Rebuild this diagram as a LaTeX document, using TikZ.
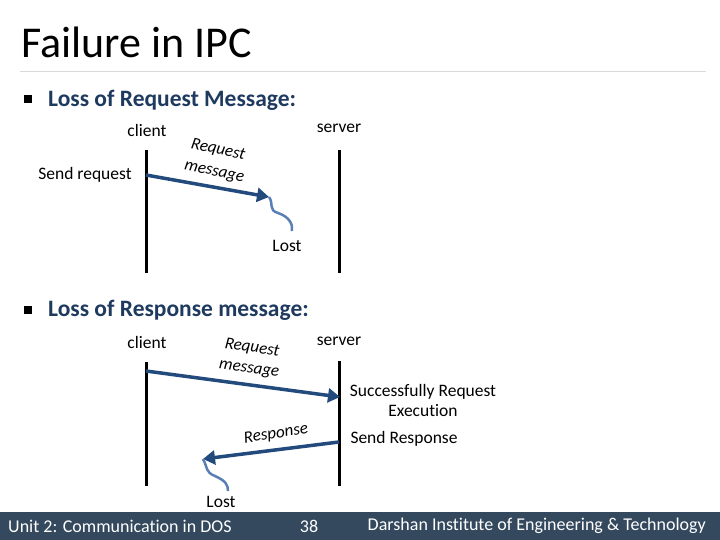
\documentclass[tikz,border=0pt]{standalone}
\usepackage{fontspec}
\setmainfont{Carlito}[Ligatures={NoCommon}]
\usetikzlibrary{arrows.meta}
\definecolor{navy}{HTML}{1F3A5F}
\definecolor{arrowc}{HTML}{234A7C}
\definecolor{wavec}{HTML}{5A7FB4}
\definecolor{footc}{HTML}{34495E}
\tikzset{
  lifeline/.style={line width=3pt, black},
  msg/.style={line width=3.5pt, arrowc, -{Triangle[length=12pt,width=14pt]}},
  wave/.style={line width=2.5pt, wavec},
  lbl/.style={font=\fontsize{17.5}{20}\selectfont, inner sep=0pt, anchor=center},
  slant/.style={font=\fontsize{17}{18}\selectfont\itshape, inner sep=0pt, anchor=center},
  bullet/.style={font=\fontsize{23.5}{26}\selectfont\bfseries, text=navy, inner sep=0pt, anchor=west},
  foot/.style={font=\fontsize{18}{20}\selectfont, text=white, inner sep=0pt}
}
\begin{document}
\begin{tikzpicture}[x=1pt,y=-1pt]
\useasboundingbox (0,0) rectangle (720,540);
\fill[white] (0,0) rectangle (720,540);
% title
\node[anchor=west, inner sep=0pt, font=\fontsize{44}{48}\selectfont] (title) at (21,42) {Failure in IPC};
\draw[line width=1pt, black!15] (20,72) -- (706,72);
% bullet 1
\fill[black] (24,95) rectangle (32,103);
\node[bullet] (b1) at (48,100) {Loss of Request Message:};
% section 1
\node[lbl] (c1) at (147,130) {client};
\node[lbl] (s1) at (339,128) {server};
\node[lbl] (sr) at (85,175) {Send request};
\coordinate (c1t) at (146,150); \coordinate (c1b) at (146,273);
\coordinate (s1t) at (339,150); \coordinate (s1b) at (339,273);
\draw[lifeline] (c1t) -- (c1b);
\draw[lifeline] (s1t) -- (s1b);
\coordinate (r1a) at (146,175); \coordinate (r1b) at (269,197);
\draw[msg] (r1a) -- (r1b);
\node[slant, rotate=-12] (rq1) at (218,150) {Request};
\node[slant, rotate=-12] (ms1) at (214,173) {message};
\coordinate (w1e) at (292,231);
\draw[wave] (r1b) .. controls (274,204) and (268,210) .. (278,213) .. controls (290,217) and (293,225) .. (w1e);
\node[lbl] (l1) at (287,246) {Lost};
% bullet 2
\fill[black] (24,306) rectangle (32,314);
\node[bullet] (b2) at (48,310) {Loss of Response message:};
% section 2
\node[lbl] (c2) at (147,342) {client};
\node[lbl] (s2) at (339,341) {server};
\coordinate (c2t) at (146,362); \coordinate (c2b) at (146,486);
\coordinate (s2t) at (339,361); \coordinate (s2b) at (339,486);
\draw[lifeline] (c2t) -- (c2b);
\draw[lifeline] (s2t) -- (s2b);
\coordinate (r2a) at (146,371); \coordinate (r2b) at (340,397);
\draw[msg] (r2a) -- (r2b);
\node[slant, rotate=-8] (rq2) at (252,348) {Request};
\node[slant, rotate=-8] (ms2) at (249,370) {message};
\node[lbl, align=center] (sre) at (423,400) {Successfully Request\\[0pt]Execution};
\node[lbl] (sndr) at (404,439) {Send Response};
\coordinate (p2a) at (339,442); \coordinate (p2b) at (203,459);
\draw[msg] (p2a) -- (p2b);
\node[slant, rotate=9] (rsp) at (276,434) {Response};
\coordinate (w2e) at (228,491);
\draw[wave] (p2b) .. controls (208,468) and (205,472) .. (215,476) .. controls (226,481) and (228,485) .. (w2e);
\node[lbl] (l2) at (221,502) {Lost};
% footer
\fill[footc] (0,512) rectangle (720,540);
\node[foot, anchor=west] (f1) at (8,526) {Unit 2: Communication in DOS};
\node[foot] (f2) at (309,526) {38};
\node[foot, anchor=east] (f3) at (706,526) {Darshan Institute of Engineering \& Technology};
\end{tikzpicture}
\end{document}
